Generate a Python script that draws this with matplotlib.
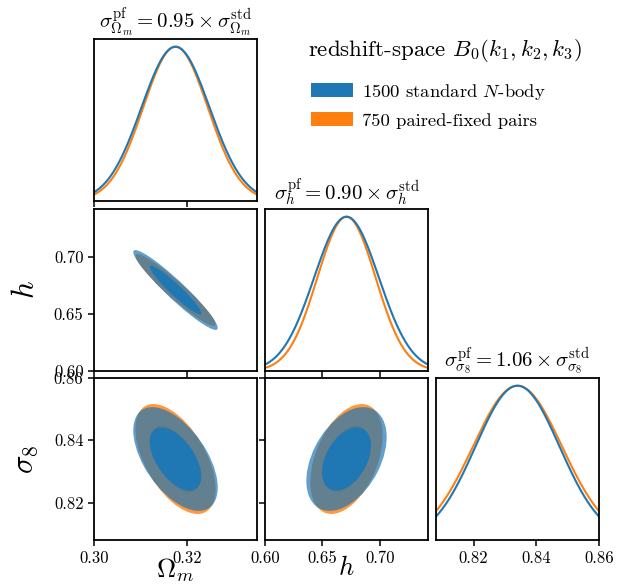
import numpy as np
import matplotlib
matplotlib.use('Agg')
import matplotlib.pyplot as plt
from matplotlib.patches import Ellipse, Patch

plt.rcParams['font.family'] = 'serif'
plt.rcParams['font.serif'] = ['cmr10']
plt.rcParams['mathtext.fontset'] = 'cm'
plt.rcParams['axes.formatter.use_mathtext'] = True
plt.rcParams['axes.unicode_minus'] = False

# parameters: Omega_m, h, sigma_8
labels = [r'$\Omega_m$', r'$h$', r'$\sigma_8$']
names = [r'\Omega_m', r'h', r'\sigma_8']
fid = [0.3175, 0.6711, 0.834]
half_range = [0.0175, 0.0711, 0.026]
ticks = [[0.30, 0.32], [0.60, 0.65, 0.70], [0.82, 0.84, 0.86]]

# marginal errors of the standard sims, and pf/std ratios
sig_std = [0.00365, 0.0141, 0.0067]
ratio_pf = [0.95, 0.90, 1.06]
# correlation coefficients (i, j)
rho = {(0, 1): -0.95, (0, 2): -0.55, (1, 2): 0.42}

c_std = '#1f77b4'
c_pf = '#ff7f0e'

fig = plt.figure(figsize=(6.23, 5.85), dpi=100)
W, H = 623., 585.
lefts = [94, 265, 436]
tops = [39, 209, 378]
aw, ah = 163, 162


def get_ax(row, col):
    return fig.add_axes([lefts[col] / W, 1 - (tops[row] + ah) / H, aw / W, ah / H])


def draw_ellipse(ax, i, j, sig, col, alpha_out, alpha_in):
    r = rho[(j, i)] if (j, i) in rho else rho[(i, j)]
    cov = np.array([[sig[i] ** 2, r * sig[i] * sig[j]],
                    [r * sig[i] * sig[j], sig[j] ** 2]])
    vals, vecs = np.linalg.eigh(cov)
    ang = np.degrees(np.arctan2(vecs[1, 1], vecs[0, 1]))
    for a, al in [(np.sqrt(6.17), alpha_out), (np.sqrt(2.30), alpha_in)]:
        e = Ellipse((fid[i], fid[j]), 2 * a * np.sqrt(vals[1]), 2 * a * np.sqrt(vals[0]),
                    angle=ang, facecolor=col, edgecolor='none', alpha=al)
        ax.add_patch(e)


sig_pf = [s * r for s, r in zip(sig_std, ratio_pf)]

for row in range(3):
    for col in range(row + 1):
        ax = get_ax(row, col)
        for sp in ax.spines.values():
            sp.set_linewidth(1.3)
        ax.tick_params(width=1.1, length=4, labelsize=12)
        ax.set_xlim(fid[col] - half_range[col], fid[col] + half_range[col])
        ax.set_xticks(ticks[col])
        if row == col:
            x = np.linspace(fid[col] - half_range[col], fid[col] + half_range[col], 400)
            # 1D curves, peak-normalised (drawn with twice the marginal width)
            for s, c in [(sig_pf[col], c_pf), (sig_std[col], c_std)]:
                ax.plot(x, np.exp(-0.5 * ((x - fid[col]) / (2 * s)) ** 2), color=c, lw=1.5)
            ax.set_ylim(0, 1.05)
            ax.set_yticks([])
            r = ratio_pf[col]
            ax.set_title(r'$\sigma^{\rm pf}_{%s} = %.2f \times \sigma^{\rm std}_{%s}$'
                         % (names[col], r, names[col]), fontsize=15, pad=5)
        else:
            ax.set_ylim(fid[row] - half_range[row], fid[row] + half_range[row])
            draw_ellipse(ax, col, row, sig_pf, c_pf, 0.8, 0.8)
            draw_ellipse(ax, col, row, sig_std, c_std, 0.7, 1.0)
            ax.set_yticks(ticks[row])
            if col == 0:
                ax.set_yticklabels(['%.2f' % t for t in ticks[row]])
                ax.set_ylabel(labels[row], fontsize=22)
                ax.yaxis.set_label_coords(-0.33, 0.5)
            else:
                ax.set_yticklabels([])
        if row == 2:
            ax.set_xticklabels(['%.2f' % t for t in ticks[col]])
            if col < 2:
                ax.set_xlabel(labels[col], fontsize=19)
                ax.xaxis.set_label_coords(0.5, -0.1)
        else:
            ax.set_xticklabels([])

fig.text(308 / W, 1 - 50 / H, r'redshift-space $B_0(k_1,k_2,k_3)$', fontsize=16.5,
         ha='left', va='center')
handles = [Patch(facecolor=c_std, label=r'1500 standard $N$-body'),
           Patch(facecolor=c_pf, label=r'750 paired-fixed pairs')]
leg = fig.legend(handles=handles, loc='upper left', bbox_to_anchor=(294 / W, 1 - 65 / H),
                 frameon=False, fontsize=13.4, handlelength=2.25, handleheight=0.8,
                 handletextpad=0.5, labelspacing=0.55)

fig.savefig('out.png', dpi=100)
